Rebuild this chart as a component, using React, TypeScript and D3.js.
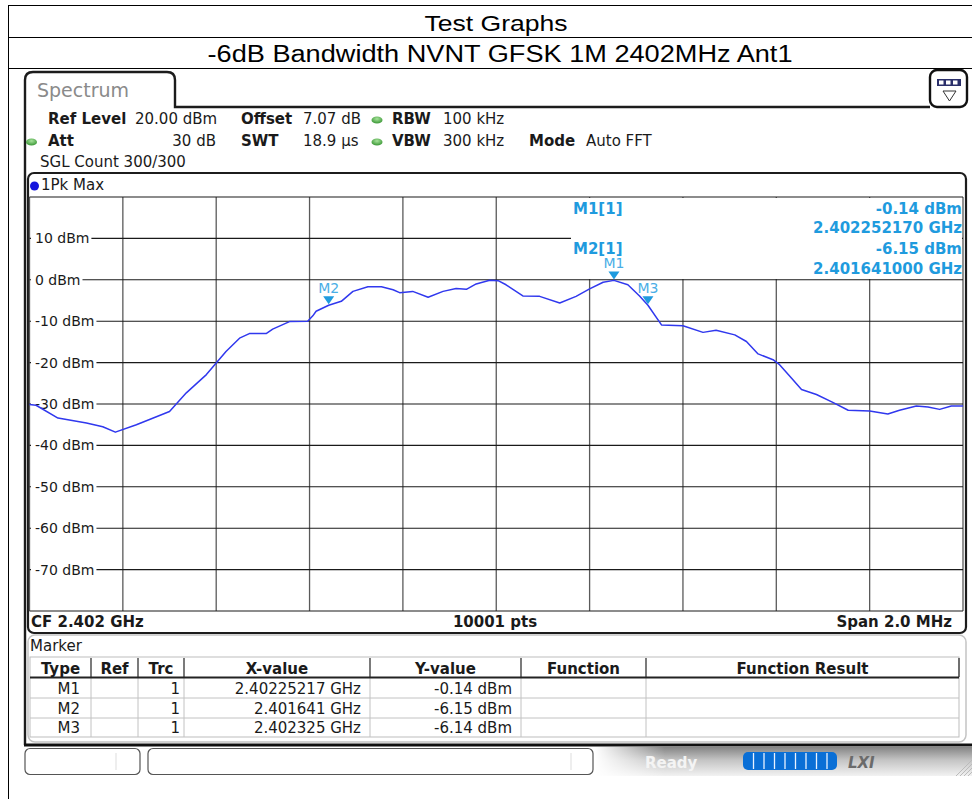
import React from "react";
import * as d3 from "d3";

// trace (GHz / dBm)
const freqGHz = [
  2.401, 2.401014, 2.401061, 2.401122, 2.401157, 2.401184, 2.401229, 2.4013,
  2.401336, 2.401379, 2.4014, 2.401421, 2.40145, 2.401471, 2.401507, 2.401521,
  2.401557, 2.401596, 2.401607, 2.401614, 2.401641, 2.401668, 2.401693,
  2.401725, 2.401754, 2.401779, 2.401793, 2.401821, 2.401854, 2.401886,
  2.401914, 2.401936, 2.401957, 2.401986, 2.402004, 2.402021, 2.402057,
  2.402093, 2.402136, 2.402171, 2.4022, 2.402229, 2.40225217, 2.402282,
  2.402307, 2.402325, 2.402354, 2.4024, 2.402443, 2.402471, 2.402511, 2.402536,
  2.402561, 2.402593, 2.402607, 2.402629, 2.402654, 2.402686, 2.402721,
  2.402754, 2.4028, 2.402839, 2.402864, 2.4029, 2.402925, 2.40295, 2.402975,
  2.403,
];
const levelDbm = [
  -30.1, -30.3, -33.4, -34.6, -35.5, -36.8, -35.0, -31.8, -27.3, -22.9, -20.1,
  -17.3, -14.1, -13.0, -13.0, -11.9, -10.1, -10.0, -8.7, -7.6, -6.15, -5.2,
  -2.8, -1.7, -1.7, -2.4, -3.1, -2.8, -4.2, -2.8, -2.1, -2.3, -1.0, -0.1, -0.2,
  -1.2, -3.9, -4.0, -5.6, -4.0, -2.2, -0.6, -0.14, -1.2, -3.9, -6.14, -10.9,
  -11.1, -12.7, -12.2, -13.3, -14.9, -17.9, -19.3, -20.5, -23.3, -26.5, -27.7,
  -29.6, -31.5, -31.7, -32.4, -31.5, -30.5, -30.7, -31.3, -30.5, -30.5,
];

const yTickValues = [10, 0, -10, -20, -30, -40, -50, -60, -70];

const markerNames = ["M1", "M2", "M3"];
const markerFreq = [2.40225217, 2.401641, 2.402325];
const markerLevel = [-0.14, -6.15, -6.14];
const markerXText = ["2.40225217 GHz", "2.401641 GHz", "2.402325 GHz"];
const markerYText = ["-0.14 dBm", "-6.15 dBm", "-6.14 dBm"];
const markerTrc = ["1", "1", "1"];

const tableHeads = ["Type", "Ref", "Trc", "X-value", "Y-value", "Function", "Function Result"];
const colEdges = [30, 91, 138, 184, 370, 521, 646, 959];

const FONT = "DejaVu Sans";
const BLUE = "#1f9bde";
const TRACE = "#3038ee";

// approximate DejaVu widths for the y labels
const cw: Record<string, number> = { "-": 0.361, " ": 0.318, d: 0.635, B: 0.686, m: 0.974 };
const textW = (s: string, size: number) =>
  s.split("").reduce((a, c) => a + (cw[c] ?? 0.636), 0) * size;

export default function App() {
  const x = d3.scaleLinear().domain([2.401, 2.403]).range([29.5, 963]);
  const y = d3.scaleLinear().domain([-80, 20]).range([611, 197]);
  const line = d3
    .line<number>()
    .x((_, i) => x(freqGHz[i]))
    .y((d) => y(d));
  const xGrid = x.ticks(10);
  const yGrid = y.ticks(10);

  return (
    <div style={{ position: "absolute", left: 0, top: 0 }}>
      <svg width={972} height={799} style={{ display: "block", background: "#fff" }}>
        <defs>
          <linearGradient id="sb" x1="0" y1="0" x2="0" y2="1">
            <stop offset="0" stopColor="#848484" />
            <stop offset="0.45" stopColor="#c4c4c4" />
            <stop offset="1" stopColor="#f2f2f2" />
          </linearGradient>
          <linearGradient id="sbfade" x1="0" y1="0" x2="1" y2="0">
            <stop offset="0" stopColor="#fff" stopOpacity="1" />
            <stop offset="1" stopColor="#fff" stopOpacity="0" />
          </linearGradient>
          <radialGradient id="gdot" cx="0.5" cy="0.35" r="0.6">
            <stop offset="0" stopColor="#a6e39a" />
            <stop offset="1" stopColor="#3f9a3a" />
          </radialGradient>
        </defs>

        {/* page table */}
        <g stroke="#000" strokeWidth={1}>
          <line x1={8} x2={972} y1={5.5} y2={5.5} />
          <line x1={8} x2={972} y1={37.5} y2={37.5} />
          <line x1={8} x2={972} y1={68.5} y2={68.5} />
          <line x1={8.5} x2={8.5} y1={5} y2={799} />
        </g>
        <text x={496} y={31} textAnchor="middle" fontFamily="Liberation Sans" fontSize={22} textLength={143} lengthAdjust="spacingAndGlyphs">
          Test Graphs
        </text>
        <text x={500} y={62} textAnchor="middle" fontFamily="Liberation Sans" fontSize={23} textLength={585} lengthAdjust="spacingAndGlyphs">
          -6dB Bandwidth NVNT GFSK 1M 2402MHz Ant1
        </text>

        {/* window frame + tab */}
        <path d="M25,745 V80 Q25,72 33,72 H167 Q175,72 175,80 V107 H930" fill="none" stroke="#1c1c1c" strokeWidth={2.4} />
        <text x={37} y={97} fontFamily={FONT} fontSize={19} fill="#8a8a8a">Spectrum</text>
        <rect x={930} y={70} width={37} height={37} rx={7} fill="#fff" stroke="#111" strokeWidth={2.4} />
        <rect x={937} y={79} width={24} height={7} fill="#2a2f6a" />
        {[0, 1, 2].map((i) => (
          <rect key={i} x={939 + i * 7} y={80.5} width={4.5} height={4} fill="#fff" />
        ))}
        <path d="M943,91 H956 L949.5,101 Z" fill="#fff" stroke="#333" strokeWidth={1} />

        {/* setting lines */}
        <g fontFamily={FONT} fontSize={15} fill="#1a1a1a">
          <text x={48} y={124} fontWeight="bold">Ref Level</text>
          <text x={135} y={124}>20.00 dBm</text>
          <text x={241} y={124} fontWeight="bold">Offset</text>
          <text x={303} y={124}>7.07 dB</text>
          <text x={392} y={124} fontWeight="bold">RBW</text>
          <text x={443} y={124}>100 kHz</text>
          <text x={48} y={146} fontWeight="bold">Att</text>
          <text x={216} y={146} textAnchor="end">30 dB</text>
          <text x={241} y={146} fontWeight="bold">SWT</text>
          <text x={303} y={146}>18.9 µs</text>
          <text x={392} y={146} fontWeight="bold">VBW</text>
          <text x={443} y={146}>300 kHz</text>
          <text x={529} y={146} fontWeight="bold">Mode</text>
          <text x={586} y={146}>Auto FFT</text>
          <text x={40} y={167}>SGL Count 300/300</text>
        </g>
        <ellipse cx={31.5} cy={142} rx={5.5} ry={3.6} fill="url(#gdot)" />
        <ellipse cx={377} cy={120} rx={5.5} ry={3.6} fill="url(#gdot)" />
        <ellipse cx={377} cy={142} rx={5.5} ry={3.6} fill="url(#gdot)" />

        {/* diagram panel */}
        <rect x={28} y={173} width={938} height={460} rx={6} fill="#fff" stroke="#1c1c1c" strokeWidth={2.2} />
        <circle cx={34.5} cy={186} r={4.5} fill="#1515dd" />
        <text x={41} y={190} fontFamily={FONT} fontSize={15} fill="#1a1a1a">1Pk Max</text>

        {/* grid */}
        <g>
          {xGrid.map((f) => (
            <line key={"v" + f} x1={x(f)} x2={x(f)} y1={y(20)} y2={y(-80)} stroke="#5a5a5a" strokeWidth={1.3} />
          ))}
          {yGrid.map((v) => (
            <line key={"h" + v} x1={x(2.401)} x2={x(2.403)} y1={y(v)} y2={y(v)} stroke="#1a1a1a" strokeWidth={1.1} />
          ))}
        </g>

        {/* marker readout box */}
        <rect x={571} y={198} width={391} height={81} fill="#fff" />
        <g fontFamily={FONT} fontSize={15} fontWeight="bold" fill={BLUE}>
          <text x={573} y={214}>M1[1]</text>
          <text x={962} y={214} textAnchor="end">{markerYText[0]}</text>
          <text x={962} y={233} textAnchor="end">2.402252170 GHz</text>
          <text x={573} y={254}>M2[1]</text>
          <text x={962} y={254} textAnchor="end">{markerYText[1]}</text>
          <text x={962} y={274} textAnchor="end">2.401641000 GHz</text>
        </g>

        {/* y labels */}
        {yTickValues.map((v) => {
          const s = `${v} dBm`;
          const w = textW(s, 14);
          return (
            <g key={"l" + v}>
              <rect x={31} y={y(v) - 8} width={w + 6} height={16} fill="#fff" />
              <text x={35} y={y(v) + 5} fontFamily={FONT} fontSize={14} fill="#1a1a1a">{s}</text>
            </g>
          );
        })}

        {/* trace */}
        <path d={line(levelDbm) ?? ""} fill="none" stroke={TRACE} strokeWidth={1.5} strokeLinejoin="round" />

        {/* markers */}
        {markerNames.map((m, i) => {
          const mx = x(markerFreq[i]);
          const my = y(markerLevel[i]);
          return (
            <g key={m}>
              <path d={`M${mx - 5.5},${my - 9} H${mx + 5.5} L${mx},${my - 1} Z`} fill={BLUE} />
              <text x={mx} y={my - 12} textAnchor="middle" fontFamily={FONT} fontSize={14} fill="#4aaee6">{m}</text>
            </g>
          );
        })}

        {/* footer row */}
        <g fontFamily={FONT} fontSize={15} fontWeight="bold" fill="#1a1a1a">
          <text x={31} y={627}>CF 2.402 GHz</text>
          <text x={495} y={627} textAnchor="middle">10001 pts</text>
          <text x={952} y={627} textAnchor="end">Span 2.0 MHz</text>
        </g>

        {/* marker table */}
        <rect x={28} y={635} width={938} height={107} rx={7} fill="#fff" stroke="#c4c4c4" strokeWidth={1.5} />
        <text x={30} y={651} fontFamily={FONT} fontSize={15} fill="#1a1a1a">Marker</text>
        <rect x={30} y={657} width={929} height={80} fill="#fff" stroke="#bdbdbd" strokeWidth={1} />
        {[698, 718].map((ry) => (
          <line key={ry} x1={30} x2={959} y1={ry} y2={ry} stroke="#c2c2c2" />
        ))}
        {colEdges.slice(1, -1).map((cx) => (
          <line key={"c" + cx} x1={cx} x2={cx} y1={677} y2={737} stroke="#c2c2c2" />
        ))}
        {colEdges.slice(1).map((cx) => (
          <line key={"h" + cx} x1={cx} x2={cx} y1={658} y2={677} stroke="#333" strokeWidth={1.3} />
        ))}
        <line x1={30} x2={959} y1={677.5} y2={677.5} stroke="#222" strokeWidth={2} />
        <g fontFamily={FONT} fontSize={15} fontWeight="bold" fill="#1a1a1a">
          {tableHeads.map((h, i) => (
            <text key={h} x={(colEdges[i] + colEdges[i + 1]) / 2} y={674} textAnchor="middle">{h}</text>
          ))}
        </g>
        <g fontFamily={FONT} fontSize={15} fill="#1a1a1a" textAnchor="end">
          {markerNames.map((m, i) => {
            const ry = 694 + i * 19.5;
            return (
              <g key={"r" + m}>
                <text x={80} y={ry}>{m}</text>
                <text x={180} y={ry}>{markerTrc[i]}</text>
                <text x={361} y={ry}>{markerXText[i]}</text>
                <text x={512} y={ry}>{markerYText[i]}</text>
              </g>
            );
          })}
        </g>

        {/* status bar */}
        <rect x={595} y={747} width={377} height={29} fill="url(#sb)" />
        <rect x={595} y={747} width={70} height={29} fill="url(#sbfade)" />
        <line x1={24} x2={972} y1={745} y2={745} stroke="#111" strokeWidth={3} />
        <rect x={25} y={748.5} width={115} height={26} rx={5} fill="#fff" stroke="#555" strokeWidth={1.2} />
        <line x1={116} x2={116} y1={753} y2={770} stroke="#ddd" />
        <rect x={148} y={748.5} width={445} height={26} rx={5} fill="#fff" stroke="#555" strokeWidth={1.2} />
        <line x1={571} x2={571} y1={753} y2={770} stroke="#ddd" />
        <text x={645} y={768} fontFamily={FONT} fontSize={15} fontWeight="bold" fill="#f4f4f4">Ready</text>
        <rect x={743} y={752} width={94} height={18} rx={5} fill="#0a6fd6" />
        {[1, 2, 3, 4, 5, 6, 7, 8].map((k) => (
          <line key={"b" + k} x1={743 + k * 10.5} x2={743 + k * 10.5} y1={753} y2={769} stroke="#e8f2ff" strokeWidth={1.3} />
        ))}
        <text x={848} y={768} fontFamily={FONT} fontSize={15} fontWeight="bold" fontStyle="italic" fill="#6b6b6b">LXI</text>
        {[0, 1, 2, 3].map((k) => (
          <line key={"g" + k} x1={956 + k * 4} x2={972} y1={776} y2={760 + k * 4} stroke="#bbb" strokeWidth={1} />
        ))}
      </svg>
    </div>
  );
}
